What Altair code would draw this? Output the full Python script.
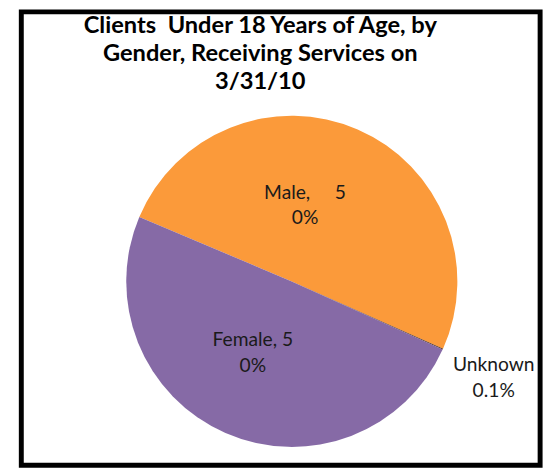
import math
import altair as alt
import pandas as pd

NB = "\u00a0"

# ---- data ----
title_lines = ["Clients" + NB + " Under 18 Years of Age, by", "Gender, Receiving Services on", "3/31/10"]
categories = ["Male", "Unknown", "Female"]
percents = [50.3, 0.1, 49.6]
label_texts = ["Male," + NB * 5 + "5\n0%", "Unknown\n0.1%", "Female, 5\n0%"]
colors = ["#FB9A3A", "#4A2A1C", "#866AA6"]

df = pd.DataFrame({
    "name": categories,
    "value": percents,
    "label": label_texts,
    "order": list(range(len(categories))),
})

start = math.radians(292.9)
cx, cy, R = 288, 274, 168
total = sum(percents)
theta_scale = alt.Scale(domain=[0, total], range=[start, start + 2 * math.pi])

pie = alt.Chart(df).mark_arc(outerRadius=R).encode(
    theta=alt.Theta("value:Q", stack=True, scale=theta_scale),
    order=alt.Order("order:Q"),
    x=alt.value(cx), y=alt.value(cy),
    color=alt.Color("name:N", scale=alt.Scale(domain=categories, range=colors), legend=None),
)

stacked = alt.Chart(df).transform_stack(
    stack="value", groupby=[], as_=["v0", "v1"], sort=[alt.SortField("order")]
).transform_calculate(mid="(datum.v0 + datum.v1) / 2")

def label_layer(name, radius, dx=0, dy=0):
    return stacked.transform_filter(alt.datum.name == name).mark_text(
        radius=radius, dx=dx, dy=dy, font="Lato", fontSize=19.5, lineBreak="\n",
        lineHeight=26, align="center", baseline="middle", color="#1a1a1a",
    ).encode(
        theta=alt.Theta("mid:Q", stack=None, scale=theta_scale),
        x=alt.value(cx), y=alt.value(cy), text="label:N",
    )

male_lbl = label_layer("Male", 84, dx=-20, dy=-13)
fem_lbl = label_layer("Female", 78.6, dx=-8, dy=-12)
unk_lbl = label_layer("Unknown", 218, dx=6, dy=-4)

title_df = pd.DataFrame({"t": ["\n".join(title_lines)]})
title = alt.Chart(title_df).mark_text(
    font="Lato", fontSize=24, fontWeight="bold", lineBreak="\n", lineHeight=28.5,
    align="center", baseline="alphabetic", color="black",
).encode(text="t:N", x=alt.value(256), y=alt.value(21.5))

border = alt.Chart(pd.DataFrame({"a": [0]})).mark_rect(
    filled=False, stroke="black", strokeWidth=5,
).encode(x=alt.value(13.5), x2=alt.value(540), y=alt.value(0.5), y2=alt.value(460.5))

chart = alt.layer(border, pie, male_lbl, fem_lbl, unk_lbl, title).properties(
    width=548, height=464,
    autosize=alt.AutoSizeParams(type="none"),
    padding=0,
).configure_view(stroke=None)

chart.save("out.html", embed_options={"renderer": "svg", "actions": False})
